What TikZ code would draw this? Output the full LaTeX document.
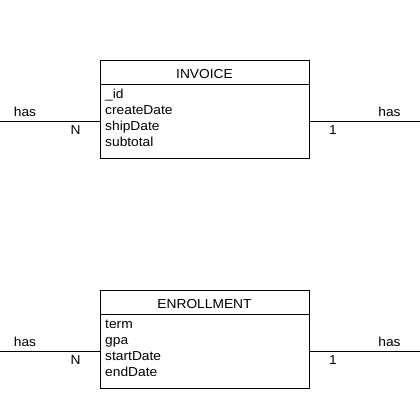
\documentclass[tikz,border=0pt]{standalone}
\usepackage{fontspec}
\setmainfont[FakeStretch=1.06]{Liberation Sans}
\begin{document}
\begin{tikzpicture}[x=1pt,y=-1pt,
  lbl/.style={inner sep=0pt,anchor=base,font=\fontsize{13}{15}\selectfont},
  att/.style={lbl,anchor=base west},
  ent/.style={draw=black,line width=1pt,minimum width=209pt,minimum height=98pt,inner sep=0pt},
  rel/.style={draw=black,line width=1pt}]
\useasboundingbox (0,0) rectangle (420,420);
% INVOICE
\node[ent,anchor=north west] (inv) at (100,60) {};
\coordinate (invdL) at (100,84);
\coordinate (invdR) at (309,84);
\draw[rel] (invdL) -- (invdR);
\node[lbl] (invt) at (204.5,78) {INVOICE};
\node[att] (a1) at (105,98.3) {\_id};
\node[att] (a2) at (105,114.5) {createDate};
\node[att] (a3) at (105,130.6) {shipDate};
\node[att] (a4) at (105,146.7) {subtotal};
\coordinate (invL) at (0,121);
\coordinate (invR) at (420,121);
\draw[rel] (invL) -- (inv.west |- invL);
\draw[rel] (inv.east |- invR) -- (invR);
\node[lbl] (h1) at (25,116) {has};
\node[lbl] (n1) at (75.5,134.5) {N};
\node[lbl] (o1) at (333,134.5) {1};
\node[lbl] (h2) at (389.5,116) {has};
% ENROLLMENT
\node[ent,anchor=north west] (enr) at (100,290) {};
\coordinate (enrdL) at (100,314);
\coordinate (enrdR) at (309,314);
\draw[rel] (enrdL) -- (enrdR);
\node[lbl] (enrt) at (204.5,308) {ENROLLMENT};
\node[att] (b1) at (105,328.3) {term};
\node[att] (b2) at (105,344.5) {gpa};
\node[att] (b3) at (105,360.6) {startDate};
\node[att] (b4) at (105,376.7) {endDate};
\coordinate (enrL) at (0,351);
\coordinate (enrR) at (420,351);
\draw[rel] (enrL) -- (enr.west |- enrL);
\draw[rel] (enr.east |- enrR) -- (enrR);
\node[lbl] (h3) at (25,346) {has};
\node[lbl] (n2) at (75.5,364.5) {N};
\node[lbl] (o2) at (333,364.5) {1};
\node[lbl] (h4) at (389.5,346) {has};
\end{tikzpicture}
\end{document}
